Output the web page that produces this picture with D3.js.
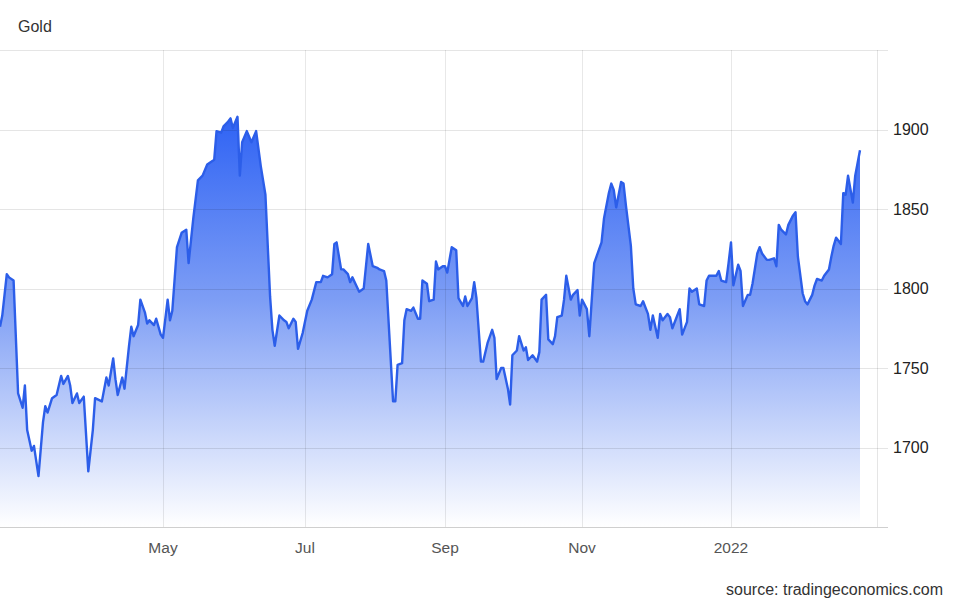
<!DOCTYPE html>
<html>
<head>
<meta charset="utf-8">
<script src="https://cdn.jsdelivr.net/npm/d3@7/dist/d3.min.js"></script>
<style>
  html, body { margin: 0; padding: 0; background: #fff; }
  svg { display: block; font-family: "Liberation Sans", Arial, Helvetica, sans-serif; }
</style>
</head>
<body>
<svg id="chart" width="956" height="600"></svg>
<script>
// ---- data ----
const title = "Gold";
const source = "source: tradingeconomics.com";
const dates = [
  "2021-02-18","2021-02-19","2021-02-21","2021-02-22","2021-02-24","2021-02-26","2021-02-28",
  "2021-03-01","2021-03-02","2021-03-04","2021-03-05","2021-03-07","2021-03-09","2021-03-10","2021-03-11",
  "2021-03-13","2021-03-15","2021-03-17","2021-03-18","2021-03-20","2021-03-21","2021-03-22","2021-03-24",
  "2021-03-25","2021-03-27","2021-03-29","2021-03-31",
  "2021-04-01","2021-04-04","2021-04-06","2021-04-07","2021-04-09","2021-04-10","2021-04-11","2021-04-13",
  "2021-04-14","2021-04-16","2021-04-17","2021-04-18","2021-04-20","2021-04-21","2021-04-23","2021-04-24",
  "2021-04-25","2021-04-27","2021-04-28","2021-04-30","2021-05-01",
  "2021-05-03","2021-05-04","2021-05-05","2021-05-07","2021-05-09","2021-05-11","2021-05-12","2021-05-14",
  "2021-05-16","2021-05-18","2021-05-20","2021-05-23","2021-05-24","2021-05-26","2021-05-27","2021-05-29",
  "2021-05-30","2021-05-31",
  "2021-06-02","2021-06-03","2021-06-04","2021-06-06","2021-06-08","2021-06-10","2021-06-12","2021-06-14",
  "2021-06-16","2021-06-17","2021-06-18","2021-06-20","2021-06-22","2021-06-23","2021-06-24","2021-06-26",
  "2021-06-27","2021-06-28","2021-06-30",
  "2021-07-02","2021-07-04","2021-07-06","2021-07-08","2021-07-09","2021-07-11","2021-07-13","2021-07-14",
  "2021-07-15","2021-07-17","2021-07-18","2021-07-20","2021-07-21","2021-07-22","2021-07-24","2021-07-25",
  "2021-07-27","2021-07-29","2021-07-31",
  "2021-08-02","2021-08-03","2021-08-05","2021-08-06","2021-08-09","2021-08-10","2021-08-11","2021-08-13",
  "2021-08-14","2021-08-15","2021-08-17","2021-08-18","2021-08-20","2021-08-21","2021-08-22","2021-08-24",
  "2021-08-25","2021-08-27","2021-08-28","2021-08-29","2021-08-31",
  "2021-09-01","2021-09-02","2021-09-04","2021-09-06","2021-09-07","2021-09-09","2021-09-10","2021-09-11",
  "2021-09-13","2021-09-14","2021-09-15","2021-09-17","2021-09-18","2021-09-20","2021-09-22","2021-09-23",
  "2021-09-24","2021-09-26","2021-09-27","2021-09-29","2021-09-30",
  "2021-10-01","2021-10-03","2021-10-04","2021-10-06","2021-10-07","2021-10-08","2021-10-10","2021-10-12",
  "2021-10-13","2021-10-14","2021-10-16","2021-10-17","2021-10-19","2021-10-20","2021-10-21","2021-10-23",
  "2021-10-24","2021-10-25","2021-10-27","2021-10-28","2021-10-30","2021-10-31",
  "2021-11-01","2021-11-03","2021-11-04","2021-11-06","2021-11-09","2021-11-10","2021-11-12","2021-11-13",
  "2021-11-14","2021-11-15","2021-11-17","2021-11-18","2021-11-19","2021-11-21","2021-11-22","2021-11-23",
  "2021-11-25","2021-11-26","2021-11-28","2021-11-29","2021-11-30",
  "2021-12-02","2021-12-03","2021-12-04","2021-12-06","2021-12-07","2021-12-08","2021-12-10","2021-12-11",
  "2021-12-12","2021-12-14","2021-12-15","2021-12-16","2021-12-18","2021-12-19","2021-12-21","2021-12-22",
  "2021-12-23","2021-12-25","2021-12-26","2021-12-27","2021-12-28","2021-12-30","2021-12-31",
  "2022-01-01","2022-01-02","2022-01-04","2022-01-05","2022-01-06","2022-01-08","2022-01-09","2022-01-10",
  "2022-01-12","2022-01-13","2022-01-14","2022-01-16","2022-01-17","2022-01-19","2022-01-20","2022-01-21",
  "2022-01-22","2022-01-24","2022-01-25","2022-01-27","2022-01-28","2022-01-29","2022-01-31",
  "2022-02-01","2022-02-02","2022-02-04","2022-02-05","2022-02-06","2022-02-08","2022-02-09","2022-02-11",
  "2022-02-12","2022-02-13","2022-02-14","2022-02-16","2022-02-17","2022-02-18","2022-02-19","2022-02-21",
  "2022-02-22","2022-02-24"
];
const prices = [
  1776,1783,1809,1807,1805,1734,1725,
  1739,1711,1698,1701,1682,1716,1726,1722,
  1731,1733,1745,1740,1745,1739,1728,1734,
  1728,1732,1685,1711,
  1731,1729,1744,1739,1756,1743,1733,1744,
  1737,1764,1776,1770,1777,1793,1785,1778,
  1780,1777,1781,1771,1769,
  1793,1780,1786,1826,1835,1837,1816,1844,
  1868,1871,1878,1881,1899,1898,1902,1905,
  1907,1901,
  1908,1871,1892,1899,1892,1899,1877,1859,
  1795,1774,1764,1783,1780,1779,1775,1781,
  1779,1762,1772,
  1786,1793,1804,1804,1808,1807,1809,1828,
  1829,1812,1812,1809,1804,1807,1801,1798,
  1800,1828,1814,
  1813,1812,1811,1805,1729,1729,1752,1753,
  1780,1787,1786,1788,1781,1781,1805,1803,
  1792,1793,1817,1812,1814,
  1814,1810,1826,1824,1794,1789,1795,1789,
  1794,1804,1794,1754,1754,1766,1774,1769,
  1743,1750,1750,1737,1727,
  1758,1761,1770,1761,1763,1755,1758,1754,
  1760,1793,1796,1768,1765,1770,1782,1783,
  1793,1808,1793,1796,1799,1783,
  1793,1787,1770,1816,1829,1844,1860,1866,
  1862,1851,1867,1866,1852,1827,1800,1790,
  1789,1792,1784,1774,1783,
  1769,1784,1780,1784,1782,1775,1783,1787,
  1771,1779,1800,1798,1800,1790,1789,1805,
  1808,1808,1808,1811,1805,1804,1816,
  1829,1802,1815,1811,1789,1796,1796,1803,
  1822,1826,1822,1818,1818,1819,1814,1840,
  1837,1834,1840,1846,1848,1820,1797,
  1792,1790,1796,1802,1806,1805,1808,1812,
  1820,1827,1832,1828,1860,1859,1871,1854,
  1871,1887
];
const yTicks = [1700, 1750, 1800, 1850, 1900];
const yDomain = [1650, 1950];
const xTickDates = ["2021-05-01","2021-07-01","2021-09-01","2021-11-01","2022-01-01"];
const xTickLabels = ["May","Jul","Sep","Nov","2022"];

// ---- drawing ----
const parse = d3.timeParse("%Y-%m-%d");
const data = dates.map((d, i) => ({ date: parse(d), value: prices[i] }));

const svg = d3.select("#chart");
const plot = { left: 0, right: 877, top: 50, bottom: 527 };
const tickEnd = 888;

// Piecewise time scale so the month ticks sit where the reference puts them
const xDomain = [parse(dates[0])].concat(xTickDates.map(parse)).concat([parse(dates[dates.length - 1])]);
const x = d3.scaleTime().domain(xDomain).range([0, 163, 305, 445, 582, 731, 860]);
const y = d3.scaleLinear().domain(yDomain).range([plot.bottom, plot.top]);

const defs = svg.append("defs");
const grad = defs.append("linearGradient")
  .attr("id", "fillGrad")
  .attr("gradientUnits", "userSpaceOnUse")
  .attr("x1", 0).attr("x2", 0)
  .attr("y1", y(d3.max(prices))).attr("y2", plot.bottom);
grad.append("stop").attr("offset", "0%").attr("stop-color", "#2f63f4");
grad.append("stop").attr("offset", "45%").attr("stop-color", "#7e9ef5");
grad.append("stop").attr("offset", "100%").attr("stop-color", "#ffffff");

// area
const area = d3.area()
  .x(d => x(d.date))
  .y0(plot.bottom)
  .y1(d => y(d.value));
svg.append("path")
  .datum(data)
  .attr("d", area)
  .attr("fill", "url(#fillGrad)");

// horizontal grid lines (including top border at 1950)
const gridVals = yTicks.concat([yDomain[1]]);
svg.append("g").selectAll("line").data(gridVals).join("line")
  .attr("x1", plot.left).attr("x2", tickEnd)
  .attr("y1", d => Math.round(y(d)) + 0.5).attr("y2", d => Math.round(y(d)) + 0.5)
  .attr("stroke", "#000").attr("stroke-opacity", 0.1).attr("stroke-width", 1);

// vertical grid lines at month ticks
svg.append("g").selectAll("line").data(xTickDates).join("line")
  .attr("x1", d => Math.round(x(parse(d))) + 0.5).attr("x2", d => Math.round(x(parse(d))) + 0.5)
  .attr("y1", plot.top).attr("y2", plot.bottom)
  .attr("stroke", "#000").attr("stroke-opacity", 0.09).attr("stroke-width", 1);

// right border
svg.append("line")
  .attr("x1", plot.right + 0.5).attr("x2", plot.right + 0.5)
  .attr("y1", plot.top).attr("y2", plot.bottom)
  .attr("stroke", "#000").attr("stroke-opacity", 0.1);

// bottom axis line
svg.append("line")
  .attr("x1", plot.left).attr("x2", tickEnd)
  .attr("y1", plot.bottom + 0.5).attr("y2", plot.bottom + 0.5)
  .attr("stroke", "#cfcfcf").attr("stroke-width", 1.2);

// line
const line = d3.line()
  .x(d => x(d.date))
  .y(d => y(d.value));
svg.append("path")
  .datum(data)
  .attr("d", line)
  .attr("fill", "none")
  .attr("stroke", "#2c5ee9")
  .attr("stroke-width", 2.4)
  .attr("stroke-linejoin", "round");

// y labels (right side)
svg.append("g").selectAll("text").data(yTicks).join("text")
  .attr("x", 893)
  .attr("y", d => y(d))
  .attr("dy", "0.36em")
  .attr("font-size", 16)
  .attr("fill", "#222")
  .text(d => d);

// x labels
svg.append("g").selectAll("text").data(xTickDates).join("text")
  .attr("x", d => x(parse(d)))
  .attr("y", 553)
  .attr("text-anchor", "middle")
  .attr("font-size", 15.5)
  .attr("fill", "#555")
  .text((d, i) => xTickLabels[i]);

// title
svg.append("text")
  .attr("x", 18).attr("y", 32)
  .attr("font-size", 16)
  .attr("fill", "#333")
  .text(title);

// source
svg.append("text")
  .attr("x", 943).attr("y", 595)
  .attr("text-anchor", "end")
  .attr("font-size", 16)
  .attr("fill", "#333")
  .text(source);
</script>
</body>
</html>
